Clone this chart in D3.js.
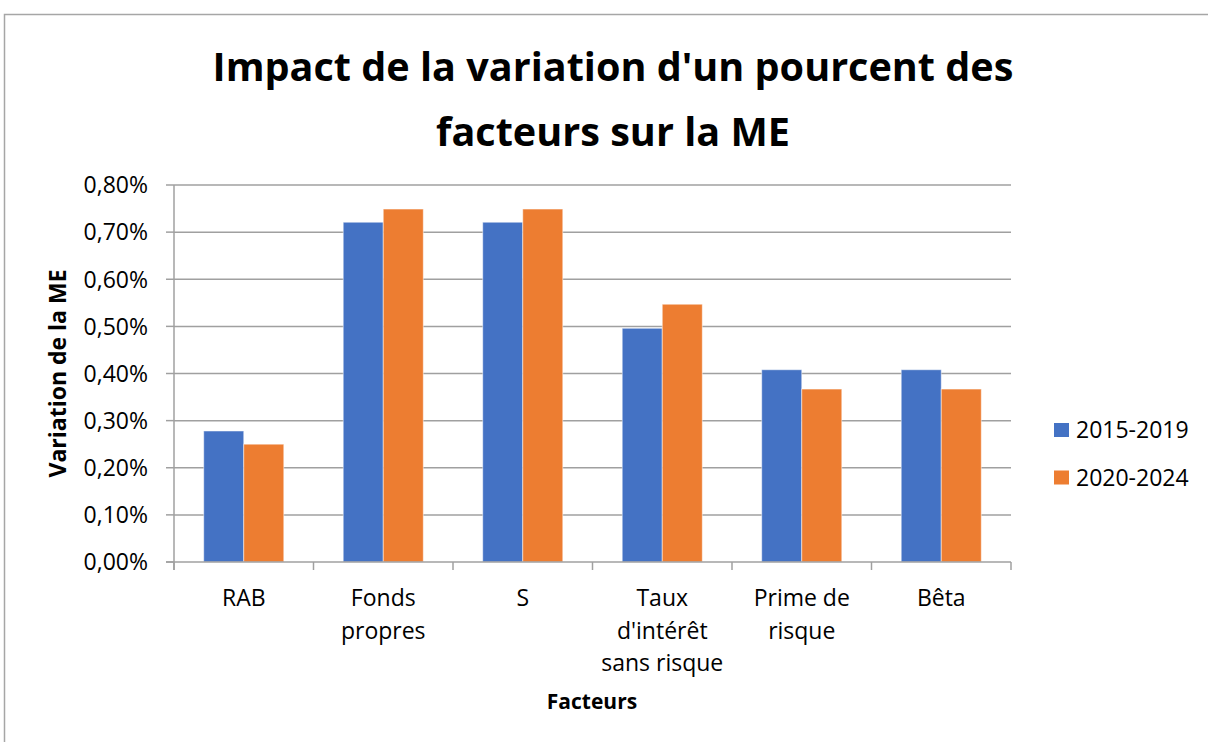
<!DOCTYPE html>
<html>
<head>
<meta charset="utf-8">
<script src="https://cdn.jsdelivr.net/npm/d3@7"></script>
<style>
  body { margin: 0; background: #fff; }
  svg { display: block; font-family: "Open Sans", sans-serif; }
</style>
</head>
<body>
<svg width="1208" height="742"></svg>
<script>
const categories = [["RAB"], ["Fonds", "propres"], ["S"], ["Taux", "d'intérêt", "sans risque"], ["Prime de", "risque"], ["Bêta"]];
const series = ["2015-2019", "2020-2024"];
const values_2015 = [0.278, 0.721, 0.721, 0.496, 0.408, 0.408];
const values_2020 = [0.250, 0.749, 0.749, 0.547, 0.367, 0.367];
const yticks = [0, 0.1, 0.2, 0.3, 0.4, 0.5, 0.6, 0.7, 0.8];
const colors = ["#4472C4", "#ED7D31"];

const margin = {left: 174, right: 1011, top: 185, bottom: 562};

function init(){
  const svg = d3.select("svg");

  svg.append("rect")
     .attr("x", 4.5).attr("y", 14.5)
     .attr("width", 1220).attr("height", 750)
     .style("fill", "none").style("stroke", "#a6a6a6").style("stroke-width", 1.5);

  const keys = categories.map(c => c.join(" "));
  const x0 = d3.scaleBand().domain(keys).range([margin.left, margin.right]).padding(0);
  const bw = x0.bandwidth();
  const x1 = d3.scaleBand().domain(series).range([bw * 0.213, bw * 0.787]).padding(0);
  const y = d3.scaleLinear().domain([0, 0.8]).range([margin.bottom, margin.top]);

  // grid
  svg.append("g").selectAll("line").data(yticks.slice(1)).join("line")
     .attr("x1", margin.left).attr("x2", margin.right)
     .attr("y1", d => y(d)).attr("y2", d => y(d))
     .style("stroke", "#a0a0a0").style("stroke-width", 1.5);

  // y ticks + labels
  const ya = svg.append("g");
  ya.selectAll("line").data(yticks).join("line")
     .attr("x1", margin.left - 8).attr("x2", margin.left)
     .attr("y1", d => y(d)).attr("y2", d => y(d))
     .style("stroke", "#a0a0a0").style("stroke-width", 1.5);
  ya.selectAll("text").data(yticks).join("text")
     .attr("x", 148).attr("y", d => y(d)).attr("dy", "0.36em")
     .attr("text-anchor", "end")
     .style("font-size", "23px").style("fill", "#000")
     .text(d => d3.format(".2f")(d).replace(".", ",") + "%");

  // bars
  const data = keys.map((k, i) => ({key: k, vals: [values_2015[i], values_2020[i]]}));
  const g = svg.append("g").selectAll("g").data(data).join("g")
     .attr("transform", d => "translate(" + x0(d.key) + ",0)");
  g.selectAll("rect").data(d => d.vals.map((v, j) => ({s: series[j], v: v, j: j}))).join("rect")
     .attr("x", d => x1(d.s)).attr("width", x1.bandwidth())
     .attr("y", d => y(d.v)).attr("height", d => y(0) - y(d.v))
     .style("fill", d => colors[d.j])
     .style("stroke", "#fff").style("stroke-opacity", 0.5).style("stroke-width", 1);

  // axes lines
  svg.append("line")
     .attr("x1", margin.left).attr("x2", margin.left)
     .attr("y1", margin.top).attr("y2", margin.bottom + 8)
     .style("stroke", "#a0a0a0").style("stroke-width", 1.5);
  svg.append("line")
     .attr("x1", margin.left - 8).attr("x2", margin.right)
     .attr("y1", margin.bottom).attr("y2", margin.bottom)
     .style("stroke", "#a0a0a0").style("stroke-width", 1.5);
  const xt = keys.map(k => x0(k)).concat([margin.right]);
  svg.append("g").selectAll("line").data(xt).join("line")
     .attr("x1", d => d).attr("x2", d => d)
     .attr("y1", margin.bottom).attr("y2", margin.bottom + 8)
     .style("stroke", "#a0a0a0").style("stroke-width", 1.5);

  // x labels
  const xl = svg.append("g").selectAll("text").data(categories).join("text")
     .attr("text-anchor", "middle")
     .style("font-size", "23px").style("fill", "#000")
     .attr("transform", (d, i) => "translate(" + (x0(keys[i]) + bw / 2) + ",606)");
  xl.selectAll("tspan").data(d => d).join("tspan")
     .attr("x", 0).attr("y", (d, i) => i * 32.5)
     .text(d => d);

  // titles
  const title = svg.append("text").attr("text-anchor", "middle")
     .style("font-size", "39.6px").style("font-weight", "bold").style("fill", "#000");
  title.append("tspan").attr("x", 613).attr("y", 81).text("Impact de la variation d'un pourcent des");
  title.append("tspan").attr("x", 613).attr("y", 146).text("facteurs sur la ME");

  svg.append("text").attr("x", 592).attr("y", 709).attr("text-anchor", "middle")
     .style("font-size", "21px").style("font-weight", "bold").text("Facteurs");

  svg.append("text")
     .attr("transform", "translate(66," + ((margin.top + margin.bottom) / 2) + ") rotate(-90)")
     .attr("text-anchor", "middle")
     .style("font-size", "23px").style("font-weight", "bold").text("Variation de la ME");

  // legend
  const lg = svg.append("g").selectAll("g").data(series).join("g")
     .attr("transform", (d, i) => "translate(1054," + (423 + i * 47.5) + ")");
  lg.append("rect").attr("width", 15).attr("height", 14).style("fill", (d, i) => colors[i]);
  lg.append("text").attr("x", 22).attr("y", 15)
     .style("font-size", "23px").text(d => d);
}

window.addEventListener("load", init);
</script>
</body>
</html>
